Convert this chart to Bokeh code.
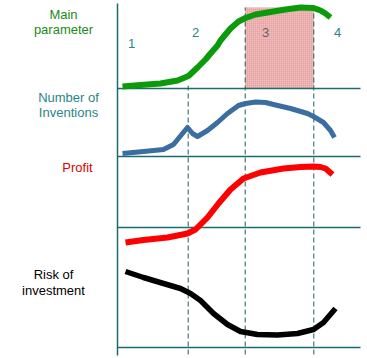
from bokeh.plotting import figure
from bokeh.models import Range1d
from bokeh.core.properties import value
from bokeh.embed import file_html
from bokeh.resources import INLINE

# ---------------- data (time t from the vertical axis; values above each panel's baseline)
green_t = [5, 23, 43, 60, 71, 80, 88, 93, 100, 103, 113, 121, 128, 138, 150, 168, 183, 196, 203, 208, 213]
green_v = [2, 3.5, 5, 8, 12.5, 21, 29, 35, 43, 48, 60, 67, 70.5, 74, 76, 79, 81, 80.5, 78, 75, 71]

blue_t = [5, 26, 46, 56, 65, 70, 75, 80, 90, 100, 110, 121, 128, 138, 148, 156, 173, 190, 196, 206, 213, 217]
blue_v = [3, 5, 7, 12, 23, 29, 23, 20, 26, 34, 43, 51, 53, 54.5, 54, 52, 48, 43, 40, 34, 26, 19]

red_t = [8, 26, 50, 70, 78, 90, 101, 113, 126, 143, 166, 183, 196, 203, 208, 215]
red_v = [-15, -12.5, -10, -6, -2, 10, 24, 38, 49, 55, 59, 60.5, 61, 60.5, 59, 53]

black_t = [8, 26, 46, 63, 73, 83, 96, 110, 123, 140, 160, 180, 196, 206, 218]
black_v = [76, 70, 64, 59, 54, 47, 34, 23, 16, 13, 12.5, 14, 18, 25, 39]

stage_bounds = [70.7, 127.7, 196.3]          # dashed boundaries between stages 1-2, 2-3, 3-4
stage_labels = ["1", "2", "3", "4"]
panel_labels = [["Main", "parameter"], ["Number of", "Inventions"], ["Profit"], ["Risk of", "investment"]]

# ---------------- layout (figure units = screen pixels)
BASE = [270, 202, 131, 11]        # baselines of the four panels
T_END = 243
W, H = 367, 358

p = figure(width=W, height=H, x_range=Range1d(-117, 250), y_range=Range1d(0, 358),
           output_backend="svg", toolbar_location=None, min_border=0,
           x_axis_type=None, y_axis_type=None)
p.grid.visible = False
p.outline_line_color = None
p.background_fill_color = "white"
p.border_fill_color = "white"

AXC = "#1e6b6b"
TEAL = "#2a8585"
FONT = value("Liberation Sans")

# hatched stage-3 region in top panel
p.quad(left=[stage_bounds[1]], right=[stage_bounds[2]], bottom=[BASE[0]], top=[351],
       fill_color="#f2c2c2", line_color=None,
       hatch_pattern="cross", hatch_color="#e39a9a", hatch_scale=2, hatch_weight=1)

# stage numbers
num_x = [14, 78, 148, 220]
num_y = [315, 326, 326, 326]
num_col = [TEAL, TEAL, "#666666", TEAL]
p.text(x=num_x, y=num_y, text=stage_labels, text_color=num_col, text_font=FONT,
       text_font_size="13px", text_align="center", text_baseline="middle")

# axes lines
p.line([0, 0], [3, 355], line_color=AXC, line_width=1.5)
for b in BASE:
    p.line([0, T_END], [b, b], line_color=AXC, line_width=1.3)

# dashed stage boundaries
tops = [276, 351, 351]
for sb, tp in zip(stage_bounds, tops):
    p.line([sb, sb], [4, tp], line_color="#1e5e5e", line_width=1, line_dash="5 3")

# curves
p.line(green_t, [BASE[0] + v for v in green_v], line_color="#0a9a0a", line_width=6, line_join="round")
p.line(blue_t, [BASE[1] + v for v in blue_v], line_color="#3a6ea0", line_width=5, line_join="round")
p.line(red_t, [BASE[2] + v for v in red_v], line_color="#ff0000", line_width=6, line_join="round")
p.line(black_t, [BASE[3] + v for v in black_v], line_color="#000000", line_width=5.5, line_join="round")

# panel labels
lab_x = [-54, -49, -40, -64]
lab_y = [[344, 329.5], [261, 246], [191], [84, 68.5]]
lab_c = ["#1a8a1a", TEAL, "#e00000", "#000000"]
for lines, x, ys, c in zip(panel_labels, lab_x, lab_y, lab_c):
    p.text(x=[x] * len(lines), y=ys, text=lines, text_color=c, text_font=FONT,
           text_font_size="13px", text_align="center", text_baseline="middle")

open("out.html", "w").write(file_html(p, INLINE))
